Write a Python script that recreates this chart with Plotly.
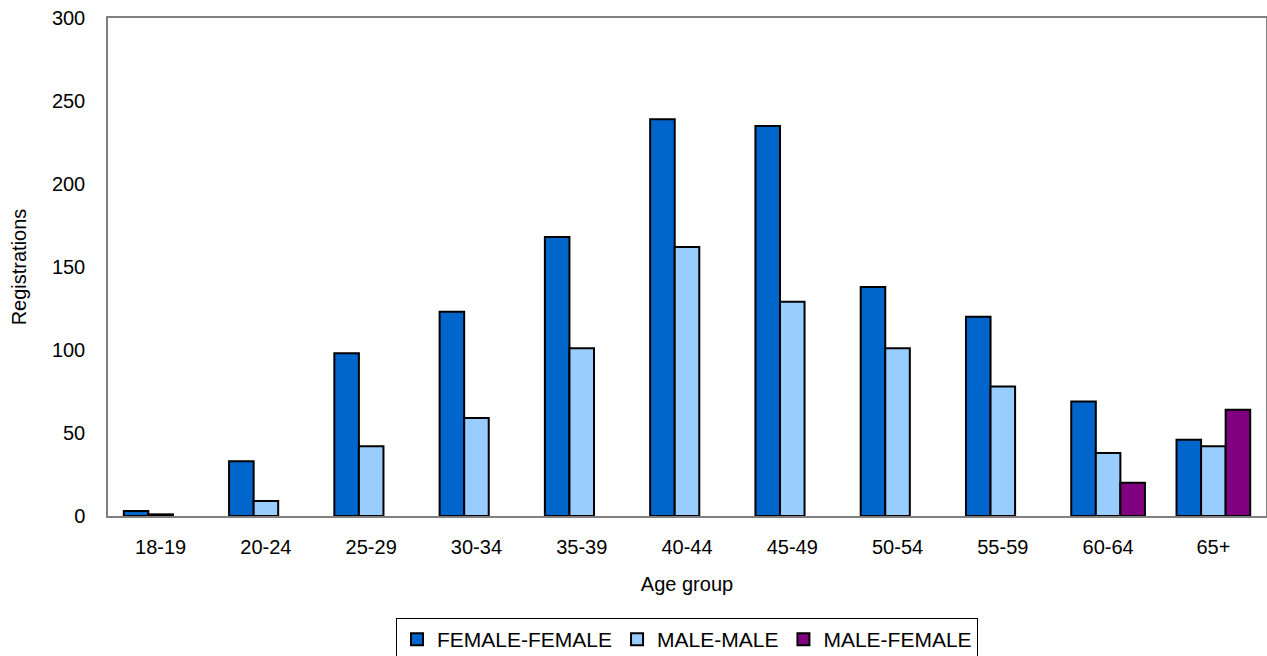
import plotly.graph_objects as go

categories = ["18-19", "20-24", "25-29", "30-34", "35-39", "40-44", "45-49", "50-54", "55-59", "60-64", "65+"]
female_female = [3, 33, 98, 123, 168, 239, 235, 138, 120, 69, 46]
male_male = [1, 9, 42, 59, 101, 162, 129, 101, 78, 38, 42]
male_female = [None, None, None, None, None, None, None, None, None, 20, 64]

series = [
    ("FEMALE-FEMALE", female_female, "#0066CC"),
    ("MALE-MALE", male_male, "#99CCFF"),
    ("MALE-FEMALE", male_female, "#800080"),
]

fig = go.Figure()
for name, vals, color in series:
    fig.add_trace(go.Bar(
        x=categories, y=vals, name=name,
        marker=dict(color=color, line=dict(color="black", width=2)),
    ))

font = "Liberation Sans, Arial, sans-serif"
fig.update_layout(
    width=1267, height=656,
    margin=dict(l=108, r=1, t=18, b=140, autoexpand=False),
    barmode="group", bargap=0.3, bargroupgap=0,
    plot_bgcolor="white", paper_bgcolor="white",
    font=dict(family=font, size=20, color="black"),
    showlegend=True,
    legend=dict(
        orientation="h", x=0.5, xanchor="center", y=-0.205, yanchor="top",
        bordercolor="black", borderwidth=1, bgcolor="white",
        font=dict(size=21, family=font), traceorder="normal",
        itemwidth=30, tracegroupgap=0,
    ),
    xaxis=dict(
        title=dict(text="Age group", standoff=20, font=dict(size=20)),
        showline=True, linecolor="#808080", linewidth=1.5, mirror=True,
        ticks="outside", ticklen=0, ticklabelstandoff=12,
        tickfont=dict(size=20),
    ),
    yaxis=dict(
        title=dict(text="Registrations", standoff=20, font=dict(size=20)),
        range=[0, 300], dtick=50,
        showline=True, linecolor="#808080", linewidth=1.5, mirror=True,
        showgrid=False, zeroline=False,
        ticks="outside", ticklen=0, ticklabelstandoff=17,
        tickfont=dict(size=20),
    ),
)

fig.write_html(
    "out.html",
    config={"displayModeBar": False},
    post_script="document.body.style.margin='0';document.body.style.overflow='hidden';",
)
